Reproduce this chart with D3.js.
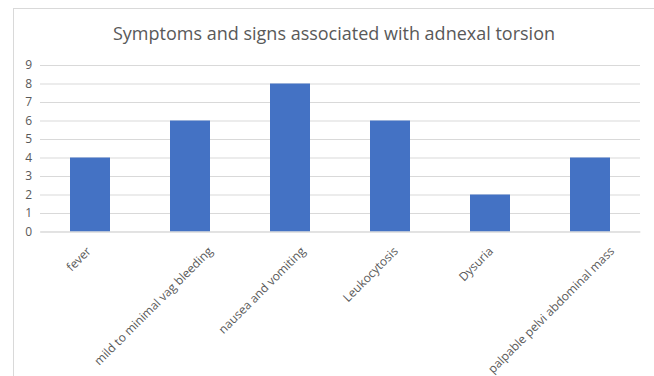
<!DOCTYPE html>
<html>
<head>
<meta charset="utf-8">
<script src="https://cdn.jsdelivr.net/npm/d3@7"></script>
<style>
  html, body { margin: 0; padding: 0; background: #fff; }
  svg { display: block; }
</style>
</head>
<body>
<svg id="chart" width="654" height="376"></svg>
<script>
const categories = ["fever", "mild to minimal vag bleeding", "nausea and vomiting", "Leukocytosis", "Dysuria", "palpable pelvi abdominal mass"];
const values = [4, 6, 8, 6, 2, 4];
const yTicks = [0, 1, 2, 3, 4, 5, 6, 7, 8, 9];
const title = "Symptoms and signs associated with adnexal torsion";

const svg = d3.select("#chart");
const font = "'Open Sans', 'Noto Sans', sans-serif";

// frame
svg.append("rect").attr("x", 13.5).attr("y", 8.5).attr("width", 700).attr("height", 400)
  .attr("fill", "none").attr("stroke", "#d9d9d9").attr("stroke-width", 1);

const x = d3.scaleBand().domain(categories).range([40, 640]).paddingInner(0.6).paddingOuter(0.3);
const y = d3.scaleLinear().domain([0, 9]).range([231.5, 65]);

// gridlines
const yAxis = d3.axisLeft(y).tickValues(yTicks).tickSize(-600).tickPadding(8).tickFormat(d3.format("d"));
const gy = svg.append("g").attr("transform", "translate(40,0)").call(yAxis);
gy.select(".domain").remove();
gy.selectAll(".tick line").attr("stroke", "#d9d9d9").attr("stroke-width", 1);
gy.selectAll(".tick text").attr("fill", "#595959").style("font-family", font).style("font-size", "12px");

// bars
svg.append("g").selectAll("rect").data(values).join("rect")
  .attr("x", (d, i) => x(categories[i]))
  .attr("y", d => y(d))
  .attr("width", x.bandwidth())
  .attr("height", d => y(0) - y(d))
  .attr("fill", "#4472c4");

// x axis
const xAxis = d3.axisBottom(x).tickSize(0).tickPadding(0);
const gx = svg.append("g").attr("transform", `translate(0,${y(0)})`).call(xAxis);
gx.select(".domain").attr("stroke", "#d9d9d9");
gx.selectAll(".tick text")
  .attr("fill", "#595959")
  .style("font-family", font).style("font-size", "12px")
  .attr("text-anchor", "end")
  .attr("y", 0).attr("dy", 0)
  .attr("transform", function () {
    const L = this.getComputedTextLength();
    const off = 0.163 * L - 3;
    return `translate(${off},${252 - y(0)}) rotate(-45)`;
  });

// title
svg.append("text").attr("x", 334).attr("y", 40).attr("text-anchor", "middle")
  .attr("fill", "#595959").style("font-family", font).style("font-size", "18px")
  .text(title);
</script>
</body>
</html>
